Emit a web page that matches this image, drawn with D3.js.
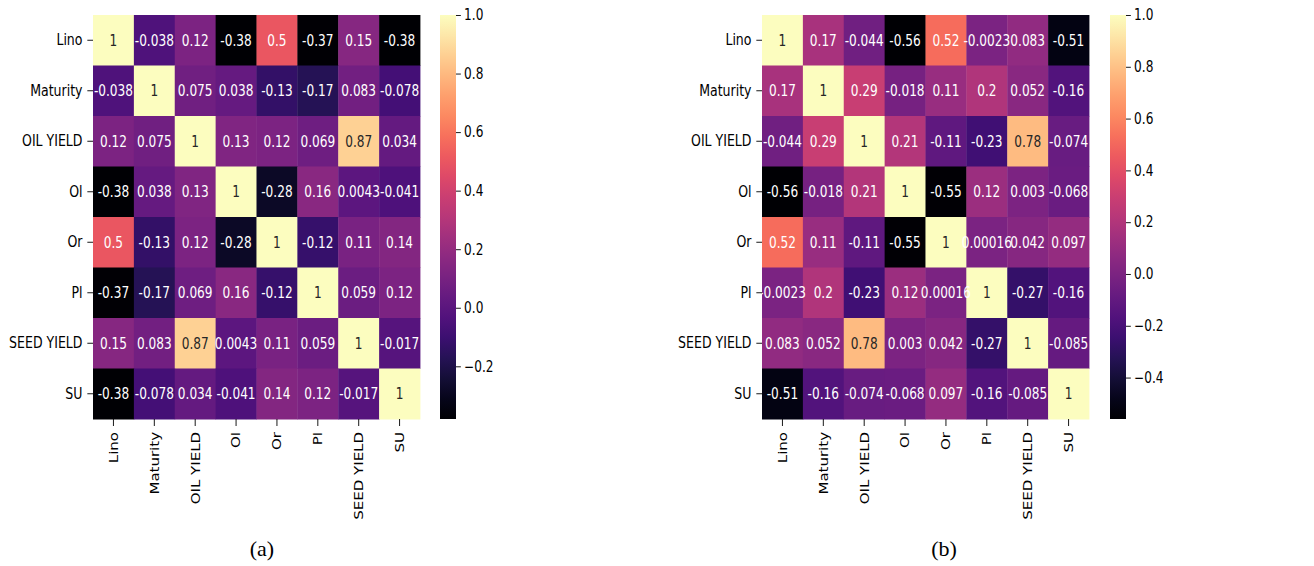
<!DOCTYPE html>
<meta charset="utf-8">
<script src="https://d3js.org/d3.v7.min.js"></script>
<style>
  body { margin: 0; background: #fff; }
  text { font-family: "DejaVu Sans", sans-serif; }
</style>
<div id="chart"></div>
<script>

    const vars = ["Lino","Maturity","OIL YIELD","Ol","Or","Pl","SEED YIELD","SU"];

    const corrA = [
        [1, -0.038, 0.12, -0.38, 0.5, -0.37, 0.15, -0.38],
        [-0.038, 1, 0.075, 0.038, -0.13, -0.17, 0.083, -0.078],
        [0.12, 0.075, 1, 0.13, 0.12, 0.069, 0.87, 0.034],
        [-0.38, 0.038, 0.13, 1, -0.28, 0.16, 0.0043, -0.041],
        [0.5, -0.13, 0.12, -0.28, 1, -0.12, 0.11, 0.14],
        [-0.37, -0.17, 0.069, 0.16, -0.12, 1, 0.059, 0.12],
        [0.15, 0.083, 0.87, 0.0043, 0.11, 0.059, 1, -0.017],
        [-0.38, -0.078, 0.034, -0.041, 0.14, 0.12, -0.017, 1]
    ];

    const corrB = [
        [1, 0.17, -0.044, -0.56, 0.52, -0.0023, 0.083, -0.51],
        [0.17, 1, 0.29, -0.018, 0.11, 0.2, 0.052, -0.16],
        [-0.044, 0.29, 1, 0.21, -0.11, -0.23, 0.78, -0.074],
        [-0.56, -0.018, 0.21, 1, -0.55, 0.12, 0.003, -0.068],
        [0.52, 0.11, -0.11, -0.55, 1, 0.00016, 0.042, 0.097],
        [-0.0023, 0.2, -0.23, 0.12, 0.00016, 1, -0.27, -0.16],
        [0.083, 0.052, 0.78, 0.003, 0.042, -0.27, 1, -0.085],
        [-0.51, -0.16, -0.074, -0.068, 0.097, -0.16, -0.085, 1]
    ];

    const ticksA = [1.0, 0.8, 0.6, 0.4, 0.2, 0.0, -0.2];
    const ticksB = [1.0, 0.8, 0.6, 0.4, 0.2, 0.0, -0.2, -0.4];

    const W = 1314, H = 566;
    const svg = d3.select("#chart").append("svg")
        .attr("width", W).attr("height", H);
    svg.append("rect").attr("width", W).attr("height", H).attr("fill", "#fff");

    // the original figure is squeezed sideways, so panels are drawn square and scaled in x
    const side = 404, topY = 15;
    const sx = 327 / side;

    function lum(c) {
        const rgb = d3.rgb(c);
        const f = v => { v /= 255; return v <= 0.03928 ? v / 12.92 : Math.pow((v + 0.055) / 1.055, 2.4); };
        return 0.2126 * f(rgb.r) + 0.7152 * f(rgb.g) + 0.0722 * f(rgb.b);
    }

    function panel(data, ticks, left, cbLeft, label, labelX, id) {
        const vmin = d3.min(data.flat()), vmax = d3.max(data.flat());
        const color = d3.scaleSequential(d3.interpolateMagma).domain([vmin, vmax]);

        const g = svg.append("g")
            .attr("transform", `translate(${left},${topY}) scale(${sx},1)`);

        const x = d3.scaleBand().domain(vars).range([0, side]);
        const y = d3.scaleBand().domain(vars).range([0, side]);

        const cells = [];
        data.forEach((row, i) => row.forEach((v, j) => cells.push({r: vars[i], c: vars[j], v: v})));

        g.selectAll("rect.cell")
            .data(cells)
            .join("rect")
                .attr("class", "cell")
                .attr("x", d => x(d.c))
                .attr("y", d => y(d.r))
                .attr("width", x.bandwidth() + 0.5)
                .attr("height", y.bandwidth() + 0.5)
                .attr("fill", d => color(d.v));

        g.selectAll("text.annot")
            .data(cells)
            .join("text")
                .attr("class", "annot")
                .attr("x", d => x(d.c) + x.bandwidth() / 2)
                .attr("y", d => y(d.r) + y.bandwidth() / 2)
                .attr("dy", "0.36em")
                .attr("text-anchor", "middle")
                .style("font-size", "15px")
                .attr("fill", d => lum(color(d.v)) > 0.408 ? "#262626" : "#fff")
                .text(d => String(d.v));

        const ya = g.append("g")
            .call(d3.axisLeft(y).tickSize(7).tickPadding(6));
        ya.select(".domain").remove();
        ya.selectAll("text").style("font-size", "15.5px").attr("fill", "#000");
        ya.selectAll("line").attr("stroke", "#000");

        const xa = g.append("g")
            .attr("transform", `translate(0,${side})`)
            .call(d3.axisBottom(x).tickSize(7));
        xa.select(".domain").remove();
        xa.selectAll("line").attr("stroke", "#000");
        xa.selectAll("text")
            .style("font-size", "15px")
            .attr("fill", "#000")
            .attr("transform", "rotate(-90)")
            .attr("text-anchor", "end")
            .attr("x", -13)
            .attr("y", 0)
            .attr("dy", "0.36em");

        // colorbar
        const grad = svg.append("defs").append("linearGradient")
            .attr("id", id).attr("x1", 0).attr("y1", 1).attr("x2", 0).attr("y2", 0);
        d3.range(0, 1.0001, 0.05).forEach(t => {
            grad.append("stop").attr("offset", t).attr("stop-color", d3.interpolateMagma(t));
        });
        const cb = svg.append("g")
            .attr("transform", `translate(${cbLeft},0) scale(${sx},1)`);
        const cbW = 16 / sx;
        cb.append("rect")
            .attr("x", 0).attr("y", topY)
            .attr("width", cbW).attr("height", side)
            .attr("fill", `url(#${id})`);
        const cy = d3.scaleLinear().domain([vmin, vmax]).range([topY + side, topY]);
        const ca = cb.append("g")
            .attr("transform", `translate(${cbW},0)`)
            .call(d3.axisRight(cy).tickValues(ticks).tickFormat(d3.format(".1f")).tickSize(6).tickPadding(4));
        ca.select(".domain").remove();
        ca.selectAll("line").attr("stroke", "#000");
        ca.selectAll("text").style("font-size", "15px").attr("fill", "#000");

        svg.append("text")
            .attr("x", labelX).attr("y", 556)
            .attr("text-anchor", "middle")
            .style("font-family", "'Liberation Serif', serif")
            .style("font-size", "22px")
            .text(label);
    }

    panel(corrA, ticksA, 93, 440, "(a)", 262, "gradA");
    panel(corrB, ticksB, 762, 1110, "(b)", 944, "gradB");
</script>
